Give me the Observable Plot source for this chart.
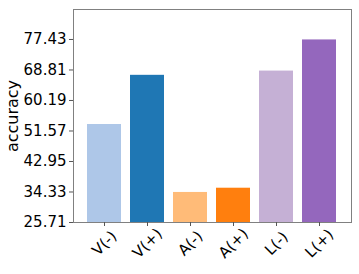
<!DOCTYPE html>
<html>
<head>
<meta charset="utf-8">
<script src="https://cdn.jsdelivr.net/npm/d3@7"></script>
<script src="https://cdn.jsdelivr.net/npm/@observablehq/plot@0.6"></script>
<style>
  html, body { margin: 0; padding: 0; background: #fff; }
  #chart svg { display: block; }
</style>
</head>
<body>
<div id="chart"></div>
<script>
const categories = ["V(-)", "V(+)", "A(-)", "A(+)", "L(-)", "L(+)"];
const values = [53.4, 67.3, 34.2, 35.4, 68.5, 77.3];
const colors = ["#aec7e8", "#1f77b4", "#ffbb78", "#ff7f0e", "#c5b0d5", "#9467bd"];
const yTicks = [25.71, 34.33, 42.95, 51.57, 60.19, 68.81, 77.43];
const yMin = 25.71, yMax = 85.9;

const data = categories.map((c, i) => ({category: c, value: values[i], color: colors[i]}));

const chart = Plot.plot({
  width: 359,
  height: 274,
  marginLeft: 73,
  marginRight: 8,
  marginTop: 9,
  marginBottom: 52,
  style: {fontFamily: "DejaVu Sans", fontSize: "15px", color: "#000", background: "#fff"},
  x: {domain: categories, paddingInner: 0.2, paddingOuter: 0.29},
  y: {domain: [yMin, yMax]},
  marks: [
    Plot.barY(data, {x: "category", y1: yMin, y2: "value", fill: "color"}),
    Plot.frame({stroke: "#808080", strokeWidth: 1}),
    Plot.axisY({ticks: yTicks, tickFormat: d => d.toFixed(2), tickSize: 4, tickPadding: 3, label: null, fontSize: 15, stroke: "#555"}),
    Plot.axisX({tickSize: 4, tickFormat: () => "", label: null, stroke: "#555"}),
    Plot.text(categories, {x: d => d, text: d => d, frameAnchor: "bottom", dy: 21, rotate: -45, textAnchor: "middle", lineAnchor: "middle", fontSize: 15, fill: "#000"}),
    Plot.text(["accuracy"], {text: d => d, frameAnchor: "left", dx: -61, rotate: -90, textAnchor: "middle", lineAnchor: "middle", fontSize: 16, fill: "#000"})
  ]
});
document.getElementById("chart").appendChild(chart);
</script>
</body>
</html>
